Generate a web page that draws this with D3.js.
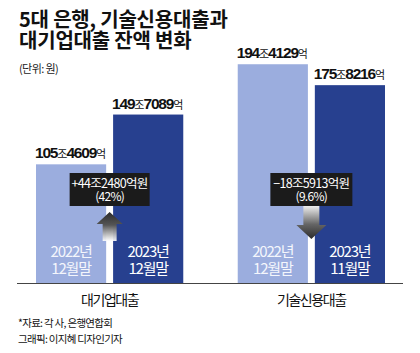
<!DOCTYPE html>
<html>
<head>
<meta charset="utf-8">
<title>5대 은행 대출 잔액 변화</title>
<script src="https://cdn.jsdelivr.net/npm/d3@7"></script>
<style>
	body { margin: 0; background: #fff; }
	svg { display: block; font-family: "Noto Sans CJK KR", "Noto Sans", sans-serif; }
</style>
</head>
<body>
<div id="chart"></div>
<script>

	// data
	const categories = ["대기업대출", "기술신용대출"];
	const periods = ["prev", "curr"];
	const yearLabels = [["2022년", "2023년"], ["2022년", "2023년"]];
	const monthLabels = [["12월말", "12월말"], ["12월말", "11월말"]];
	// 조 / 억 parts
	const joValues = [[105, 149], [194, 175]];
	const eokValues = [[4609, 7089], [4129, 8216]];
	const changeLabels = ["+44조2480억원", "\u221218조5913억원"];
	const changePct = ["(42%)", "(9.6%)"];
	const changeDir = ["up", "down"];

	const width = 420, height = 353;
	const baseY = 283;
	const lightColor = "#9badde", darkColor = "#27408f";

	const rows = [];
	categories.forEach((c, i) => periods.forEach((p, j) => rows.push({
		cat: c, period: p, ci: i, pi: j,
		jo: joValues[i][j], eok: eokValues[i][j],
		value: joValues[i][j] + eokValues[i][j] / 10000,
		year: yearLabels[i][j], month: monthLabels[i][j]
	})));

	const svg = d3.select("#chart").append("svg")
		.attr("width", width).attr("height", height)
		.attr("viewBox", [0, 0, width, height]);

	const x0 = d3.scaleBand().domain(categories).range([36, 385]).paddingInner(0.27).paddingOuter(0);
	const x1 = d3.scaleBand().domain(periods).range([0, x0.bandwidth()]).paddingInner(0.09);
	const y = d3.scaleLinear().domain([0, 196.4]).range([baseY, 62]);

	// title
	const title = svg.append("g").attr("font-weight", 700).attr("fill", "#111")
		.attr("font-size", 20).attr("letter-spacing", -0.2);
	title.append("text").attr("x", 19).attr("y", 27).text("5대 은행, 기술신용대출과");
	title.append("text").attr("x", 19).attr("y", 48).text("대기업대출 잔액 변화");
	svg.append("text").attr("x", 19).attr("y", 73).attr("font-size", 11)
		.attr("letter-spacing", -0.6).attr("fill", "#222").text("(단위: 원)");

	// gradients for arrows
	const defs = svg.append("defs");
	const gUp = defs.append("linearGradient").attr("id", "gUp").attr("x1", 0).attr("x2", 0).attr("y1", 0).attr("y2", 1);
	gUp.append("stop").attr("offset", "0%").attr("stop-color", "#2b2b2b");
	gUp.append("stop").attr("offset", "45%").attr("stop-color", "#555");
	gUp.append("stop").attr("offset", "100%").attr("stop-color", "#fff").attr("stop-opacity", 0.9);
	const gDown = defs.append("linearGradient").attr("id", "gDown").attr("x1", 0).attr("x2", 0).attr("y1", 0).attr("y2", 1);
	gDown.append("stop").attr("offset", "0%").attr("stop-color", "#eee");
	gDown.append("stop").attr("offset", "55%").attr("stop-color", "#666");
	gDown.append("stop").attr("offset", "100%").attr("stop-color", "#2b2b2b");

	// bars
	const bar = svg.append("g").selectAll("g").data(rows).join("g")
		.attr("transform", d => `translate(${x0(d.cat) + x1(d.period)},0)`);

	bar.append("rect")
		.attr("y", d => y(d.value))
		.attr("width", x1.bandwidth())
		.attr("height", d => baseY - y(d.value))
		.attr("fill", d => d.pi === 0 ? lightColor : darkColor);

	// value labels
	const vl = bar.append("text")
		.attr("x", -1)
		.attr("y", d => y(d.value) - 6)
		.attr("fill", "#111")
		.attr("font-weight", 700)
		.attr("letter-spacing", -1.2);
	vl.append("tspan").attr("font-family", "Liberation Sans, Arial, sans-serif").attr("font-size", 15.5).text(d => d.jo);
	vl.append("tspan").attr("font-size", 11).attr("font-weight", 400).attr("letter-spacing", -1).text("조");
	vl.append("tspan").attr("font-family", "Liberation Sans, Arial, sans-serif").attr("font-size", 15.5).text(d => d.eok);
	vl.append("tspan").attr("font-size", 11).attr("font-weight", 400).attr("letter-spacing", -1).text("억");

	// period labels inside bars
	const pl = bar.append("g")
		.attr("text-anchor", "middle")
		.attr("fill", d => d.pi === 0 ? "#f4f6fc" : "#fff")
		.attr("font-size", 15).attr("letter-spacing", -1.2);
	pl.append("text").attr("x", x1.bandwidth() / 2).attr("y", baseY - 26).text(d => d.year);
	pl.append("text").attr("x", x1.bandwidth() / 2).attr("y", baseY - 9).text(d => d.month);

	// baseline
	svg.append("line")
		.attr("x1", 17).attr("x2", 403)
		.attr("y1", baseY + 0.5).attr("y2", baseY + 0.5)
		.attr("stroke", "#444").attr("stroke-width", 1.2);

	// category labels
	svg.append("g").selectAll("text").data(categories).join("text")
		.attr("x", d => x0(d) + x0.bandwidth() / 2)
		.attr("y", 305)
		.attr("text-anchor", "middle")
		.attr("font-size", 14).attr("letter-spacing", -1.4)
		.attr("fill", "#111")
		.text(d => d);

	// change annotations
	const ann = svg.append("g").selectAll("g").data(categories).join("g")
		.attr("transform", d => `translate(${x0(d) + x0.bandwidth() / 2},0)`);

	ann.append("path")
		.attr("d", (d, i) => changeDir[i] === "up"
			? "M0,212 L13,224 L7,224 L7,241 L-7,241 L-7,224 L-13,224 Z"
			: "M-8,206 L8,206 L8,225 L15,225 L0,239 L-15,225 L-8,225 Z")
		.attr("fill", (d, i) => changeDir[i] === "up" ? "url(#gUp)" : "url(#gDown)");

	ann.append("rect")
		.attr("x", (d, i) => i === 0 ? -40 : -41)
		.attr("y", 173)
		.attr("width", (d, i) => i === 0 ? 80 : 82)
		.attr("height", 33)
		.attr("fill", "#1b1b1b");

	const at = ann.append("g").attr("text-anchor", "middle").attr("fill", "#fff")
		.attr("font-size", 12.5).attr("letter-spacing", -0.7);
	at.append("text").attr("x", 0).attr("y", 188).text((d, i) => changeLabels[i]);
	at.append("text").attr("x", 0).attr("y", 201).attr("font-size", 12).text((d, i) => changePct[i]);

	// footnotes
	const fn = svg.append("g").attr("font-size", 10.5).attr("letter-spacing", -0.7).attr("fill", "#111");
	fn.append("text").attr("x", 18).attr("y", 327).text("*자료: 각 사, 은행연합회");
	fn.append("text").attr("x", 18).attr("y", 343).text("그래픽: 이지혜 디자인기자");

</script>
</body>
</html>
